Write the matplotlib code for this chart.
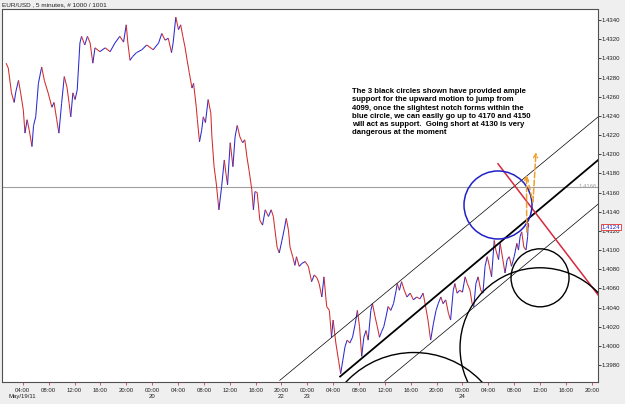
import numpy as np
import matplotlib
matplotlib.use('agg')
import matplotlib.pyplot as plt
import matplotlib.patches as mpatches
import matplotlib.transforms as mtrans
from matplotlib.collections import LineCollection

plt.rcParams['font.family'] = ['Liberation Sans', 'DejaVu Sans']

# EUR/USD 5 min closes, x = bar number
bars = [2, 6, 12, 17, 20, 25, 29, 34, 37, 41,
        45, 50, 53, 57, 62, 68, 73, 80, 87, 91,
        96, 100, 105, 110, 115, 119, 122, 126, 130, 134,
        139, 142, 148, 153, 158, 163, 167, 176, 186, 195,
        204, 213, 220, 225, 228, 232, 237, 244, 254, 263,
        275, 285, 291, 297, 303, 309, 312, 317, 322, 326,
        330, 334, 338, 342, 347, 350, 355, 357, 361, 365,
        368, 372, 377, 382, 384, 388, 392, 397, 402, 407,
        410, 413, 418, 423, 427, 431, 436, 441, 445, 449,
        453, 458, 461, 464, 468, 473, 478, 483, 489, 494,
        498, 501, 505, 509, 514, 518, 522, 526, 529, 534,
        538, 541, 546, 551, 557, 563, 569, 574, 579, 583,
        588, 592, 597, 602, 606, 609, 614, 619, 623, 627,
        631, 635, 640, 645, 650, 654, 658, 662, 666, 670,
        674, 679, 682, 687, 691, 695, 699, 703, 707, 711,
        716, 721, 726, 728, 732, 736, 741, 746, 752, 758,
        764, 770, 776, 780, 785, 790, 795, 800, 804, 809,
        813, 818, 823, 827, 832, 835, 839, 844, 849, 854,
        858, 863, 867, 870, 874, 878, 883, 887, 891, 895,
        899, 903, 908, 911, 916, 919, 924, 928, 932, 936,
        940, 945, 950, 953, 956, 959, 963, 967, 970, 971,
        972]
prices = [1.4295, 1.4290, 1.4264, 1.4254, 1.4265, 1.4277, 1.4264, 1.4246, 1.4222, 1.4236,
          1.4225, 1.4208, 1.4230, 1.4239, 1.4274, 1.4291, 1.4277, 1.4264, 1.4249, 1.4254,
          1.4236, 1.4222, 1.4253, 1.4281, 1.4270, 1.4253, 1.4239, 1.4264, 1.4257, 1.4267,
          1.4316, 1.4323, 1.4314, 1.4323, 1.4316, 1.4295, 1.4311, 1.4307, 1.4311, 1.4307,
          1.4316, 1.4323, 1.4317, 1.4335, 1.4316, 1.4298, 1.4302, 1.4306, 1.4309, 1.4314,
          1.4309, 1.4316, 1.4326, 1.4319, 1.4321, 1.4306, 1.4316, 1.4343, 1.4330, 1.4335,
          1.4323, 1.4312, 1.4298, 1.4285, 1.4269, 1.4274, 1.4249, 1.4236, 1.4213, 1.4225,
          1.4239, 1.4233, 1.4257, 1.4243, 1.4218, 1.4187, 1.4170, 1.4142, 1.4166, 1.4194,
          1.4180, 1.4168, 1.4212, 1.4187, 1.4218, 1.4230, 1.4218, 1.4212, 1.4215, 1.4197,
          1.4183, 1.4163, 1.4142, 1.4161, 1.4160, 1.4131, 1.4126, 1.4142, 1.4135, 1.4142,
          1.4135, 1.4121, 1.4103, 1.4097, 1.4110, 1.4121, 1.4133, 1.4121, 1.4103, 1.4093,
          1.4084, 1.4093, 1.4083, 1.4086, 1.4088, 1.4083, 1.4067, 1.4074, 1.4071, 1.4065,
          1.4051, 1.4072, 1.4041, 1.4037, 1.4009, 1.4027, 1.4003, 1.3985, 1.3971, 1.3985,
          1.3999, 1.4006, 1.4003, 1.4009, 1.4023, 1.4037, 1.4020, 1.3989, 1.4009, 1.4016,
          1.4006, 1.4037, 1.4044, 1.4030, 1.4020, 1.4009, 1.4015, 1.4020, 1.4030, 1.4041,
          1.4037, 1.4044, 1.4058, 1.4065, 1.4058, 1.4067, 1.4058, 1.4051, 1.4055, 1.4048,
          1.4051, 1.4049, 1.4055, 1.4043, 1.4027, 1.4006, 1.4023, 1.4037, 1.4044, 1.4051,
          1.4044, 1.4048, 1.4034, 1.4027, 1.4058, 1.4065, 1.4055, 1.4058, 1.4056, 1.4072,
          1.4065, 1.4058, 1.4044, 1.4041, 1.4065, 1.4072, 1.4058, 1.4055, 1.4083, 1.4093,
          1.4083, 1.4072, 1.4110, 1.4100, 1.4090, 1.4107, 1.4090, 1.4076, 1.4090, 1.4093,
          1.4083, 1.4093, 1.4107, 1.4100, 1.4114, 1.4119, 1.4103, 1.4100, 1.4114, 1.4128,
          1.4124]

xtick_bars = [33 + 48*k for k in range(23)]
xtick_times = ['04:00', '08:00', '12:00', '16:00', '20:00', '00:00', '04:00', '08:00',
               '12:00', '16:00', '20:00', '00:00', '04:00', '08:00', '12:00', '16:00',
               '20:00', '00:00', '04:00', '08:00', '12:00', '16:00', '20:00']
xtick_days = {0: 'May/19/11', 5: '20', 10: '22', 11: '23', 17: '24'}
yticks = [1.3980, 1.4000, 1.4020, 1.4040, 1.4060, 1.4080, 1.4100, 1.4120, 1.4140,
          1.4160, 1.4180, 1.4200, 1.4220, 1.4240, 1.4260, 1.4280, 1.4300, 1.4320, 1.4340]
hline_price = 1.4166
last_price = 1.4124

# drawn objects (bar, price)
thin_upper = [(510, 1.3964), (1101, 1.4239)]
thick_mid = [(622, 1.3968), (1101, 1.4194)]
thin_lower = [(705, 1.3963), (1101, 1.4148)]
red_line = [(915, 1.4190), (1101, 1.4053)]
# circles: centre bar, centre price, radius in px
black_circles = [(759, 1.3896, 93), (993, 1.3998, 80), (993, 1.4071, 29)]
blue_circle = (915, 1.4147, 34)

note = ("The 3 black circles shown have provided ample\n"
        "support for the upward motion to jump from\n"
        "4099, once the slightest notch forms within the\n"
        "blue circle, we can easily go up to 4170 and 4150\n"
        "will act as support.  Going short at 4130 is very\n"
        "dangerous at the moment")

pxbar = 0.5388      # px per bar
pxprice = 9583.0    # px per price unit


def circ(ax, c, color, lw):
    bx, py, r = c
    e = mpatches.Ellipse((bx, py), 2*r/pxbar, 2*r/pxprice, fill=False,
                         edgecolor=color, linewidth=lw, zorder=4)
    ax.add_patch(e)


fig = plt.figure(figsize=(6.25, 4.04), dpi=100, facecolor='#efefef')
ax = fig.add_axes([2/625., 1-381.5/404., 596/625., 372/404.])
ax.set_facecolor('white')

x = np.array(bars, dtype=float)
y = np.array(prices)
segs = [[(x[i], y[i]), (x[i+1], y[i+1])] for i in range(len(x)-1)]
cols = ['#2a2ad2' if y[i+1] >= y[i] else '#d42a2a' for i in range(len(x)-1)]
lc = LineCollection(segs, colors=cols, linewidths=0.75, zorder=3)
ax.add_collection(lc)

ax.axhline(hline_price, color='#a0a0a0', lw=0.8, zorder=1)
ax.text(1099, hline_price, '%.4f' % hline_price, fontsize=4.3, color='#a0a0a0',
        ha='right', va='center', zorder=2)

for ln, c, w in [(thin_upper, 'black', 0.5), (thick_mid, 'black', 1.3), (thin_lower, 'black', 0.5),
                 (red_line, '#d8283c', 1.1)]:
    ax.plot([ln[0][0], ln[1][0]], [ln[0][1], ln[1][1]], color=c, lw=w, zorder=4)

for c in black_circles:
    circ(ax, c, 'black', 1.0)
circ(ax, blue_circle, '#2020c8', 1.1)

orange = '#f0a030'
ax.annotate('', xy=(967.9, 1.41783), xytext=(968.3, 1.41188),
            arrowprops=dict(arrowstyle='->', color=orange, lw=1.1, linestyle='--',
                            mutation_scale=7, shrinkA=0, shrinkB=0), zorder=5)
ax.plot([968.8, 980.0], [1.41762, 1.41501], color=orange, lw=1.1, ls='--', zorder=5)
ax.annotate('', xy=(985.5, 1.42023), xytext=(980.0, 1.41501),
            arrowprops=dict(arrowstyle='->', color=orange, lw=1.1, linestyle='--',
                            mutation_scale=7, shrinkA=0, shrinkB=0), zorder=5)

ax.text(643.5, 1.42690, note, fontsize=5.6, fontweight='bold', color='black',
        ha='left', va='top', linespacing=1.25, zorder=6)

ax.set_xlim(-5.6, 1100.6)
ax.set_ylim(1.39628, 1.43510)

ax.yaxis.tick_right()
ax.set_yticks(yticks)
ax.set_yticklabels(['%.4f' % v for v in yticks])
ax.tick_params(axis='y', length=2, width=0.6, pad=0.5, labelsize=4.3, colors='#202020')
ax.set_xticks(xtick_bars)
ax.set_xticklabels([t + ('\n' + xtick_days[i] if i in xtick_days else '\n')
                    for i, t in enumerate(xtick_times)])
ax.tick_params(axis='x', length=2, width=0.6, pad=2.5, labelsize=4.3, color='#d04040',
               labelcolor='#202020')
for s in ax.spines.values():
    s.set_color('#505050')
    s.set_linewidth(0.8)

tr = mtrans.blended_transform_factory(ax.transAxes, ax.transData)
ax.text(1.006, last_price, '%.4f' % last_price, transform=tr, fontsize=4.3, color='#2020d0',
        ha='left', va='center', zorder=7,
        bbox=dict(boxstyle='square,pad=0.12', fc='white', ec='#e03030', lw=0.6))

fig.text(2/625., 1-5/404., 'EUR/USD , 5 minutes, # 1000 / 1001', fontsize=4.6,
         color='#202020', ha='left', va='center')

fig.savefig('out.png', dpi=100, facecolor=fig.get_facecolor())
plt.close(fig)
